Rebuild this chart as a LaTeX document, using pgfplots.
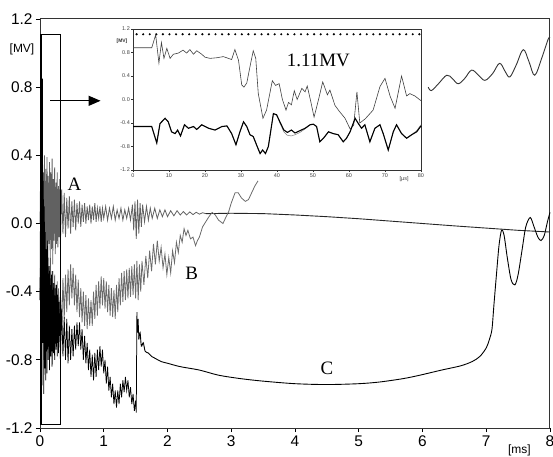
\documentclass[border=0pt]{standalone}
\usepackage{fontspec}
\setmainfont{Liberation Sans}
\newfontfamily\seriffont{Liberation Serif}
\usepackage{pgfplots}
\pgfplotsset{compat=1.18}
\usetikzlibrary{arrows.meta}
\begin{document}
\begin{tikzpicture}
\begin{axis}[name=main, scale only axis, width=510bp, height=409bp,
  xmin=0, xmax=8, ymin=-1.2, ymax=1.2, clip=false,
  xtick={0,1,2,3,4,5,6,7,8}, xticklabels={0,1,2,3,4,5,6,7,8},
  ytick={-1.2,-0.8,-0.4,0,0.4,0.8,1.2}, yticklabels={-1.2,-0.8,-0.4,0.0,0.4,0.8,1.2},
  tick align=outside, xtick pos=left, ytick pos=left,
  major tick length=4bp, tick style={black, line width=0.8pt},
  ticklabel style={font=\fontsize{15.5}{15.5}\selectfont},
  axis line style={black!80, line width=1pt}]
% curve A (noisy part)
\addplot[black!62, line width=0.8pt] coordinates {
(0.00,0.0) (0.01,0.30) (0.02,-0.20) (0.03,0.38) (0.04,-0.25) (0.05,0.25) (0.06,-0.15) (0.07,0.40) (0.08,-0.28) (0.09,0.32)
(0.10,-0.18) (0.11,0.39) (0.12,-0.22) (0.13,0.28) (0.14,-0.12) (0.15,0.36) (0.16,-0.20) (0.17,0.30) (0.18,-0.15) (0.19,0.38)
(0.20,-0.24) (0.21,0.26) (0.22,-0.10) (0.23,0.33) (0.24,-0.18) (0.25,0.24) (0.26,-0.12) (0.27,0.30) (0.28,-0.14) (0.29,0.22)
(0.30,-0.08) (0.31,0.26) (0.32,-0.12) (0.34,0.20) (0.36,-0.06) (0.38,0.18) (0.40,-0.08) (0.42,0.15) (0.44,-0.03) (0.46,0.16)
(0.48,-0.06) (0.50,0.13) (0.52,-0.02) (0.54,0.14) (0.56,-0.04) (0.58,0.12) (0.60,0.00) (0.62,0.13) (0.64,-0.02) (0.66,0.11)
(0.68,0.01) (0.70,0.12) (0.72,0.00) (0.74,0.10) (0.76,0.02) (0.78,0.11) (0.80,0.00) (0.82,0.10) (0.84,0.02) (0.86,0.12)
(0.88,0.01) (0.90,0.09) (0.92,0.03) (0.94,0.10) (0.96,0.01) (0.98,0.09) (1.00,0.03) (1.03,0.10) (1.06,0.02) (1.09,0.09)
(1.12,0.03) (1.15,0.10) (1.18,0.02) (1.21,0.08) (1.24,0.03) (1.27,0.09) (1.30,0.02) (1.33,0.08) (1.36,0.03) (1.39,0.09)
(1.42,0.02) (1.45,0.11) (1.47,-0.04) (1.49,0.13) (1.51,-0.09) (1.53,0.14) (1.55,-0.06) (1.57,0.12) (1.59,-0.02) (1.61,0.11)
(1.64,0.01) (1.67,0.10) (1.70,0.02) (1.73,0.09) (1.76,0.03) (1.80,0.09) (1.84,0.03) (1.88,0.08) (1.92,0.04) (1.96,0.08)
(2.00,0.04) (2.05,0.075) (2.10,0.045) (2.15,0.075) (2.20,0.05) (2.25,0.07) (2.30,0.05) (2.35,0.068) (2.40,0.052) (2.45,0.066)
(2.50,0.055) (2.55,0.063) (2.60,0.058)};
% curve A (tail)
\addplot[black!85, line width=0.9pt] coordinates {
(2.60,0.058) (3.00,0.06) (3.5,0.058) (4.0,0.05) (4.5,0.04) (5.0,0.028) (5.5,0.014) (6.0,0.0)
(6.5,-0.014) (7.0,-0.027) (7.5,-0.04) (8.0,-0.05)};
% curve B (first part)
\addplot[black!58, line width=0.8pt] coordinates {
(0.00,-0.45) (0.01,-0.15) (0.02,-0.75) (0.03,-0.25) (0.04,-0.70) (0.05,-0.20) (0.06,-0.80) (0.07,-0.30) (0.08,-0.65) (0.09,-0.22)
(0.10,-0.72) (0.11,-0.28) (0.12,-0.68) (0.13,-0.20) (0.14,-0.76) (0.15,-0.30) (0.16,-0.70) (0.17,-0.32) (0.18,-0.72) (0.19,-0.28)
(0.20,-0.68) (0.21,-0.35) (0.22,-0.74) (0.23,-0.30) (0.24,-0.66) (0.25,-0.36) (0.26,-0.70) (0.27,-0.34) (0.28,-0.68) (0.29,-0.38)
(0.30,-0.66) (0.32,-0.40) (0.34,-0.62) (0.36,-0.32) (0.38,-0.56) (0.40,-0.30) (0.42,-0.52) (0.44,-0.27) (0.46,-0.48) (0.48,-0.24)
(0.50,-0.44) (0.52,-0.26) (0.54,-0.48) (0.56,-0.30) (0.58,-0.52) (0.60,-0.33) (0.62,-0.55) (0.64,-0.38) (0.66,-0.58) (0.68,-0.40)
(0.70,-0.60) (0.72,-0.42) (0.74,-0.62) (0.76,-0.44) (0.78,-0.60) (0.80,-0.45) (0.82,-0.60) (0.84,-0.40) (0.86,-0.56) (0.88,-0.36)
(0.90,-0.54) (0.92,-0.34) (0.94,-0.50) (0.96,-0.31) (0.98,-0.48) (1.00,-0.32) (1.02,-0.50) (1.04,-0.34) (1.06,-0.52) (1.08,-0.36)
(1.10,-0.54) (1.12,-0.38) (1.14,-0.55) (1.16,-0.39) (1.18,-0.56) (1.20,-0.36) (1.22,-0.52) (1.24,-0.32) (1.26,-0.48) (1.28,-0.29)
(1.30,-0.46) (1.32,-0.28) (1.34,-0.45) (1.36,-0.27) (1.38,-0.44) (1.40,-0.26) (1.42,-0.43) (1.44,-0.25) (1.46,-0.42) (1.48,-0.24)
(1.50,-0.44) (1.52,-0.22) (1.54,-0.45) (1.56,-0.24) (1.58,-0.40) (1.60,-0.22) (1.63,-0.36) (1.66,-0.19) (1.69,-0.32) (1.72,-0.16)
(1.75,-0.28) (1.78,-0.12) (1.81,-0.24) (1.84,-0.10) (1.87,-0.22) (1.90,-0.14) (1.93,-0.26) (1.96,-0.18) (1.99,-0.30) (2.02,-0.20)
(2.05,-0.29) (2.08,-0.16) (2.11,-0.23) (2.14,-0.11) (2.17,-0.17) (2.20,-0.07) (2.23,-0.11) (2.26,-0.03) (2.29,-0.07) (2.32,-0.04)
(2.36,-0.09) (2.40,-0.08) (2.44,-0.13) (2.47,-0.10) (2.50,-0.08) (2.55,-0.02) (2.60,0.01) (2.65,0.04) (2.70,0.065) (2.75,0.05)
(2.80,0.02) (2.87,0.00) (2.92,0.04) (2.96,0.07) (3.00,0.12) (3.06,0.18) (3.11,0.18) (3.16,0.15) (3.22,0.13) (3.27,0.14)
(3.32,0.18) (3.37,0.22) (3.42,0.25)};
% curve B (part visible right of the inset)
\addplot[black!80, line width=0.9pt, smooth, tension=0.6] coordinates {
(6.09,0.80) (6.14,0.78) (6.25,0.82) (6.38,0.87) (6.47,0.85) (6.56,0.82) (6.66,0.85) (6.77,0.90) (6.88,0.87) (6.98,0.84)
(7.10,0.88) (7.21,0.94) (7.30,0.89) (7.37,0.86) (7.47,0.93) (7.58,1.02) (7.67,0.95) (7.76,0.87) (7.87,0.97) (7.97,1.08) (8.00,1.09)};
% curve C (noisy part)
\addplot[black, line width=0.75pt] coordinates {
(0.000,-0.45) (0.008,0.10) (0.015,-0.80) (0.022,0.55) (0.030,-0.95) (0.038,0.85) (0.045,-0.70) (0.052,0.30) (0.060,-1.00) (0.068,0.10)
(0.075,-0.85) (0.083,-0.05) (0.090,-0.92) (0.10,-0.15) (0.11,-0.88) (0.12,-0.10) (0.13,-0.80) (0.14,-0.25) (0.15,-0.86) (0.16,-0.20)
(0.17,-0.78) (0.18,-0.30) (0.19,-0.84) (0.20,-0.28) (0.21,-0.76) (0.22,-0.35) (0.23,-0.80) (0.24,-0.38) (0.25,-0.74) (0.26,-0.36)
(0.27,-0.78) (0.28,-0.42) (0.29,-0.76) (0.30,-0.46) (0.32,-0.80) (0.34,-0.50) (0.36,-0.78) (0.38,-0.55) (0.40,-0.80) (0.42,-0.56)
(0.44,-0.82) (0.46,-0.60) (0.48,-0.80) (0.50,-0.62) (0.52,-0.78) (0.54,-0.60) (0.56,-0.74) (0.58,-0.58) (0.60,-0.72) (0.62,-0.58)
(0.64,-0.74) (0.66,-0.62) (0.68,-0.80) (0.70,-0.66) (0.72,-0.82) (0.74,-0.70) (0.76,-0.86) (0.78,-0.74) (0.80,-0.90) (0.82,-0.77)
(0.84,-0.92) (0.86,-0.76) (0.88,-0.90) (0.90,-0.74) (0.92,-0.86) (0.94,-0.72) (0.96,-0.84) (0.98,-0.74) (1.00,-0.88) (1.02,-0.80)
(1.04,-0.94) (1.06,-0.84) (1.08,-0.98) (1.10,-0.90) (1.12,-1.02) (1.14,-0.94) (1.16,-1.06) (1.18,-0.98) (1.20,-1.08) (1.22,-0.98)
(1.24,-1.06) (1.26,-0.94) (1.28,-1.02) (1.30,-0.92) (1.32,-0.99) (1.34,-0.90) (1.36,-0.98) (1.38,-0.92) (1.40,-1.02) (1.42,-0.96)
(1.44,-1.06) (1.46,-1.00) (1.48,-1.10) (1.50,-1.04) (1.51,-1.11) (1.52,-0.52) (1.53,-0.64) (1.54,-0.56) (1.55,-0.68)};
% curve C (smooth part)
\addplot[black, line width=0.9pt, smooth, tension=0.5] coordinates {
(1.55,-0.68) (1.57,-0.64) (1.59,-0.72) (1.62,-0.70) (1.65,-0.75) (1.70,-0.76) (1.75,-0.78) (1.80,-0.79) (1.90,-0.81) (2.00,-0.82)
(2.20,-0.84) (2.50,-0.86) (2.80,-0.89) (3.14,-0.91) (3.50,-0.925) (4.00,-0.94) (4.50,-0.945) (5.00,-0.94) (5.33,-0.93) (5.70,-0.91)
(5.96,-0.89) (6.30,-0.86) (6.60,-0.835) (6.78,-0.81) (6.90,-0.78) (7.00,-0.73) (7.05,-0.68) (7.09,-0.62) (7.12,-0.48) (7.16,-0.30)
(7.20,-0.13) (7.24,-0.04) (7.28,-0.07) (7.33,-0.20) (7.39,-0.33) (7.45,-0.36) (7.50,-0.30) (7.56,-0.16) (7.62,-0.02) (7.69,0.035)
(7.75,-0.02) (7.81,-0.08) (7.86,-0.10) (7.91,-0.07) (7.96,0.01) (8.00,0.065)};
% box and arrow
\draw[black, line width=1.3pt] (axis cs:0.015,-1.18) rectangle (axis cs:0.32,1.11);
\draw[black, line width=1.2pt, -{Triangle[length=12bp,width=10bp]}] (axis cs:0.16,0.72) -- (axis cs:0.95,0.72);
\node[font=\seriffont\fontsize{19}{19}\selectfont] at (axis cs:0.54,0.23) {A};
\node[font=\seriffont\fontsize{19}{19}\selectfont] at (axis cs:2.38,-0.29) {B};
\node[font=\seriffont\fontsize{19}{19}\selectfont] at (axis cs:4.5,-0.85) {C};
\node[font=\fontsize{12}{12}\selectfont, inner sep=0pt] at ([xshift=-18bp]axis cs:0,1.02) {[MV]};
\node[font=\fontsize{12}{12}\selectfont, inner sep=0pt] at ([yshift=-22bp]axis cs:7.52,-1.2) {[ms]};
\end{axis}
\begin{axis}[at={(main.south west)}, anchor=south west, xshift=93bp, yshift=258bp,
  scale only axis, width=288bp, height=141bp,
  xmin=0, xmax=80, ymin=-1.2, ymax=1.2, clip=false,
  axis background/.style={fill=white},
  xtick={0,10,20,30,40,50,60,70,80}, xticklabels={0,10,20,30,40,50,60,70,80},
  ytick={-1.2,-0.8,-0.4,0,0.4,0.8,1.2}, yticklabels={-1.2,-0.8,-0.4,0.0,0.4,0.8,1.2},
  tick align=outside, xtick pos=left, ytick pos=left,
  major tick length=2bp, tick style={black!80, line width=0.5pt},
  ticklabel style={font=\fontsize{5.5}{5.5}\selectfont, text=black!75, inner sep=1pt},
  axis line style={black!80, line width=0.6pt}]
\addplot[black, line width=2.4pt, line cap=round, dash pattern=on 0pt off 6.6pt] coordinates {(1,1.11) (80,1.11)};
\addplot[black!75, line width=0.6pt] coordinates {
(0,0.88) (5.2,0.88) (6.3,1.10) (7.2,0.62) (7.9,0.97) (8.6,0.70) (9.4,0.87) (10.3,0.70) (11.2,0.77) (12.6,0.79)
(13.9,0.84) (14.9,0.79) (15.8,0.85) (16.8,0.77) (17.7,0.83) (19.1,0.77) (20.0,0.72) (21.4,0.70) (23.2,0.71) (25.1,0.73)
(26.5,0.70) (27.4,0.68) (28.3,0.85) (29.3,0.67) (30.2,0.25) (30.8,0.21) (31.6,0.28) (32.5,0.56) (33.4,0.83) (34.1,0.70)
(34.8,0.10) (36.1,-0.32) (37.1,-0.18) (38.7,0.32) (39.6,0.24) (40.6,0.27) (41.5,0.00) (42.5,-0.18) (43.2,-0.05) (44.0,-0.09)
(44.8,0.15) (45.6,0.00) (46.9,0.19) (47.8,0.13) (48.4,0.23) (49.4,-0.04) (50.3,-0.30) (51.5,-0.01) (52.7,0.30) (54.0,0.08)
(54.7,0.16) (56.1,-0.10) (57.3,-0.20) (58.9,-0.32) (60.3,-0.50) (61.3,-0.44) (62.2,0.13) (63.0,-0.40) (64.5,-0.33) (66.7,-0.18)
(68.6,0.22) (70.0,0.36) (71.4,0.06) (72.8,-0.15) (74.6,0.40) (76.0,0.06) (76.9,0.10) (78.3,0.06) (80.0,-0.02)};
\addplot[black!50, line width=0.5pt] coordinates {
(0,-0.46) (5.2,-0.46) (6.6,-0.74) (7.5,-0.41) (8.9,-0.32) (9.8,-0.38) (10.7,-0.55) (11.7,-0.58) (12.4,-0.52) (13.2,-0.62)
(14.3,-0.43) (15.4,-0.49) (16.8,-0.46) (17.7,-0.51) (19.1,-0.43) (21.0,-0.49) (22.8,-0.52) (24.7,-0.46) (26.1,-0.45) (27.4,-0.58)
(28.6,-0.77) (29.7,-0.55) (30.7,-0.38) (31.6,-0.46) (32.5,-0.60) (33.4,-0.63) (34.5,-0.80) (35.3,-0.92) (36.0,-0.86) (36.8,-0.92)
(37.6,-0.80) (39.0,-0.24) (39.9,-0.27) (40.8,-0.40) (41.9,-0.55) (42.9,-0.61) (44.0,-0.62) (45.0,-0.60) (46.4,-0.56) (47.8,-0.50)
(49.2,-0.43) (50.1,-0.42) (51.0,-0.46) (51.9,-0.72) (52.9,-0.66) (54.3,-0.55) (55.6,-0.58) (57.0,-0.60) (58.4,-0.72) (59.3,-0.66)
(60.3,-0.55) (61.7,-0.32) (62.6,-0.41) (63.5,-0.49) (64.4,-0.43) (65.8,-0.72) (67.2,-0.49) (68.6,-0.43) (69.5,-0.58) (70.9,-0.86)
(72.3,-0.55) (73.2,-0.43) (74.6,-0.58) (76.0,-0.66) (77.4,-0.60) (78.8,-0.53) (80.0,-0.43)};
\addplot[black, line width=1.1pt] coordinates {
(0,-0.46) (5.2,-0.46) (6.6,-0.74) (7.5,-0.41) (8.9,-0.32) (9.8,-0.38) (10.7,-0.55) (11.7,-0.58) (12.4,-0.52) (13.2,-0.62)
(14.3,-0.43) (15.4,-0.49) (16.8,-0.46) (17.7,-0.51) (19.1,-0.43) (21.0,-0.49) (22.8,-0.52) (24.7,-0.46) (26.1,-0.45) (27.4,-0.58)
(28.6,-0.77) (29.7,-0.55) (30.7,-0.38) (31.6,-0.46) (32.5,-0.60) (33.4,-0.63) (34.5,-0.80) (35.3,-0.92) (36.0,-0.86) (36.8,-0.92)
(37.6,-0.80) (39.0,-0.24) (39.9,-0.26) (40.8,-0.38) (41.9,-0.52) (42.9,-0.56) (44.0,-0.52) (45.0,-0.57) (46.4,-0.53) (47.8,-0.49)
(49.2,-0.43) (50.1,-0.42) (51.0,-0.46) (51.9,-0.72) (52.9,-0.66) (54.3,-0.55) (55.6,-0.58) (57.0,-0.60) (58.4,-0.72) (59.3,-0.66)
(60.3,-0.55) (61.7,-0.32) (62.6,-0.41) (63.5,-0.49) (64.4,-0.43) (65.8,-0.72) (67.2,-0.49) (68.6,-0.43) (69.5,-0.58) (70.9,-0.86)
(72.3,-0.55) (73.2,-0.43) (74.6,-0.58) (76.0,-0.66) (77.4,-0.60) (78.8,-0.55) (80.0,-0.45)};
\node[font=\seriffont\fontsize{19}{19}\selectfont] at (axis cs:51.5,0.67) {1.11MV};
\node[font=\bfseries\fontsize{5}{5}\selectfont, text=black!80, inner sep=0pt] at ([xshift=-11bp]axis cs:0,1.0) {[MV]};
\node[font=\fontsize{5.5}{5.5}\selectfont, text=black!75, inner sep=0pt] at ([yshift=-9bp]axis cs:75.3,-1.2) {[µs]};
\end{axis}
\pgfresetboundingbox
\path (main.south west) ++(-40bp,-29bp) rectangle ++(553bp,457bp);
\end{tikzpicture}
\end{document}
